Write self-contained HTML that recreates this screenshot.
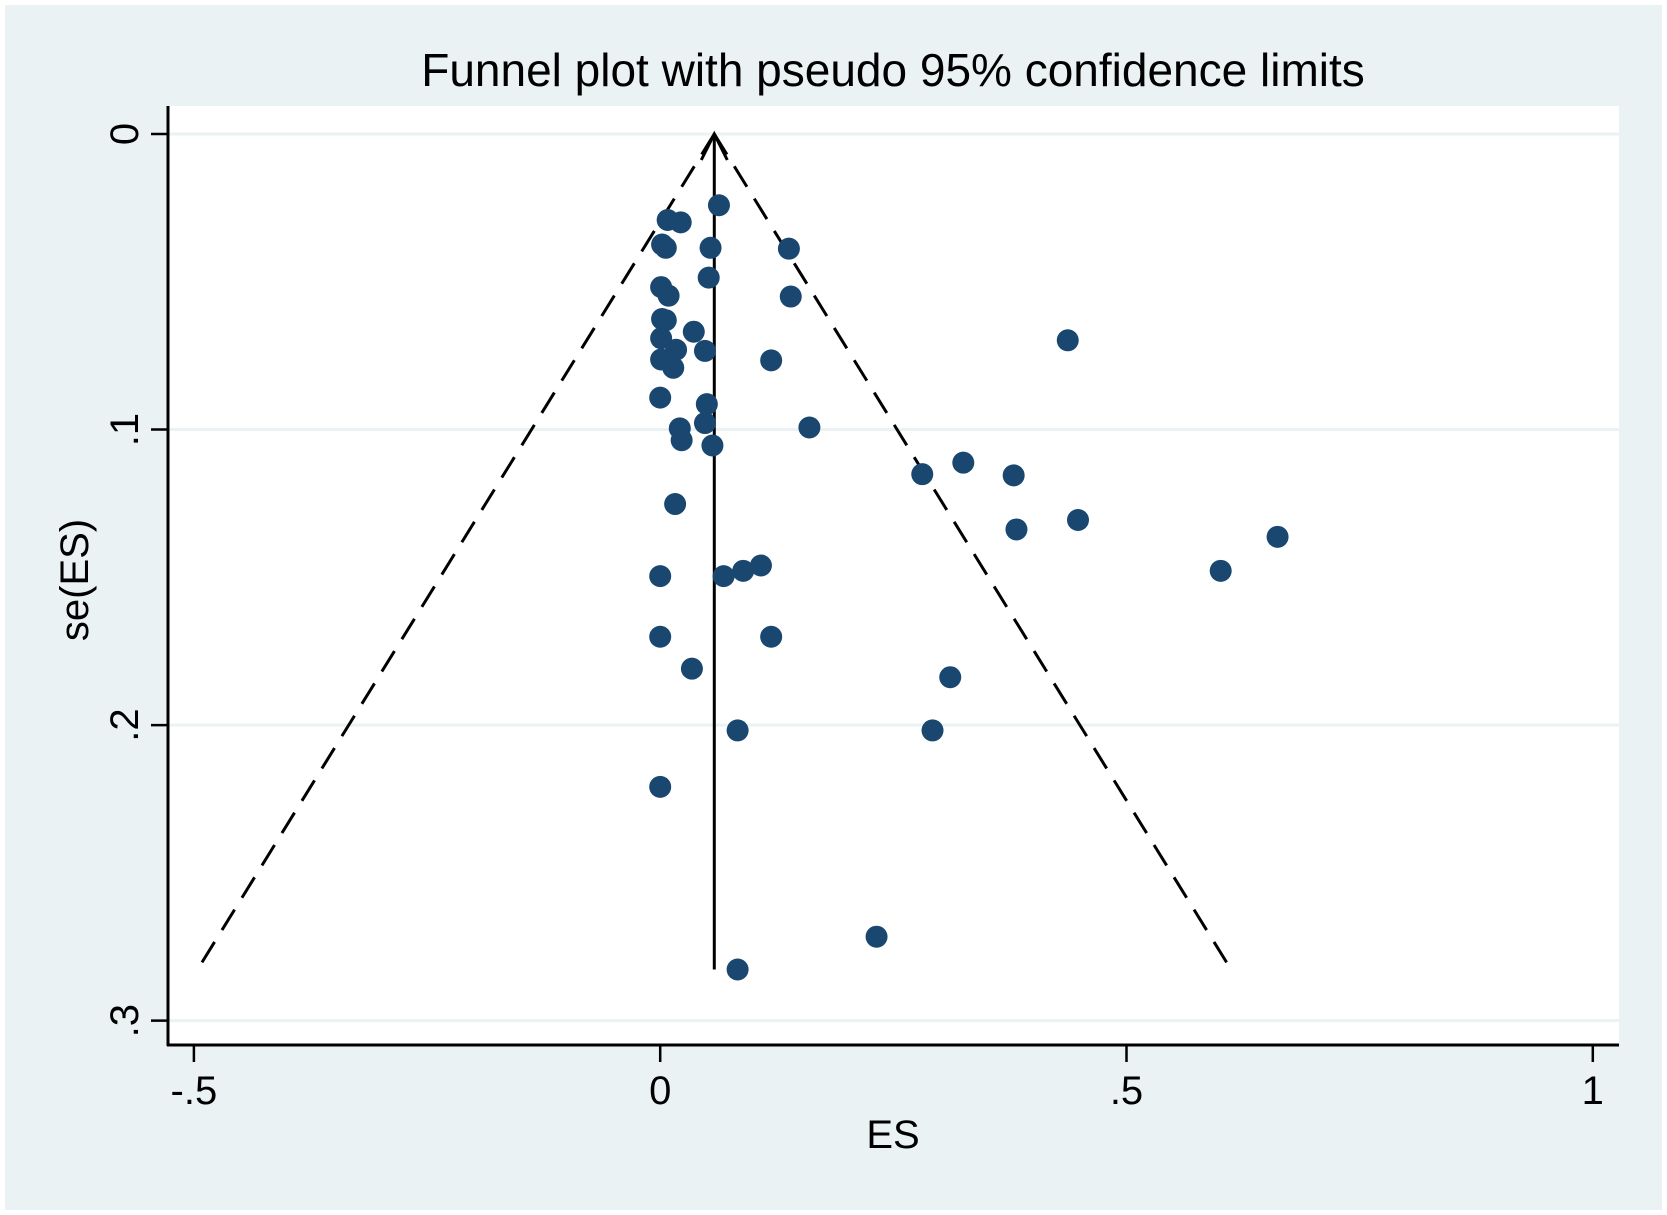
<!DOCTYPE html>
<html><head><meta charset="utf-8"><style>
html,body{margin:0;padding:0;background:#fff;}
svg{display:block;font-family:"Liberation Sans",Arial,sans-serif;}
</style></head><body>
<svg id="chart" width="1667" height="1215" viewBox="0 0 1667 1215">
<rect x="5" y="5" width="1657" height="1205" fill="#eaf2f3"/>
<rect x="168" y="106" width="1451" height="939" fill="#ffffff"/>
<text x="893" y="86" text-anchor="middle" font-size="46" fill="#000">Funnel plot with pseudo 95% confidence limits</text>
<g id="grid"></g>
<g id="axes"></g>
<g id="funnel"></g>
<g id="points"></g>
<text x="893" y="1148" text-anchor="middle" font-size="40" fill="#000">ES</text>
<text transform="translate(88,580) rotate(-90)" text-anchor="middle" font-size="40" fill="#000">se(ES)</text>
</svg>
<script>
const esValues=[0.063,0.008,0.022,0.002,0.006,0.054,0.138,0.052,0.001,0.009,0.140,0.002,0.006,0.036,0.437,0.001,0.017,0.048,0.001,0.014,0.119,0.000,0.050,0.048,0.021,0.160,0.023,0.056,0.281,0.325,0.379,0.016,0.448,0.382,0.662,0.000,0.068,0.089,0.108,0.601,0.000,0.119,0.034,0.311,0.083,0.292,0.000,0.232,0.083];
const seValues=[0.0241,0.0291,0.0299,0.0374,0.0385,0.0385,0.0388,0.0486,0.0518,0.0547,0.055,0.0626,0.063,0.0669,0.0698,0.0691,0.073,0.0734,0.0763,0.0791,0.0766,0.0892,0.0914,0.0978,0.0996,0.0993,0.1036,0.1054,0.1151,0.1112,0.1155,0.1252,0.1306,0.1338,0.1363,0.1496,0.1496,0.1478,0.146,0.1478,0.1701,0.1701,0.1809,0.1838,0.2018,0.2018,0.2209,0.2716,0.2827];
const xTicks=[-0.5,0,0.5,1];
const xTickLabels=["-.5","0",".5","1"];
const yTicks=[0,0.1,0.2,0.3];
const yTickLabels=["0",".1",".2",".3"];
const pooledES=[0.058];
const maxSE=[0.2827];

const NS="http://www.w3.org/2000/svg";
const X=v=>660.2+v*932.6;
const Y=v=>134+v*2955.5;
function mk(tag,attrs,parent){const e=document.createElementNS(NS,tag);for(const k in attrs)e.setAttribute(k,attrs[k]);parent.appendChild(e);return e;}
const grid=document.getElementById('grid'),axes=document.getElementById('axes'),fun=document.getElementById('funnel'),pts=document.getElementById('points');

yTicks.forEach((t,i)=>{
  const gl=mk('line',{x1:168,x2:1619,y1:Y(t),y2:Y(t),stroke:'#eaf2f3','stroke-width':3},grid);
  
  
  const tk=mk('line',{x1:151,x2:168,y1:Y(t),y2:Y(t),stroke:'#000','stroke-width':2.5},axes);
  
  
  const tx=mk('text',{transform:`translate(138,${Y(t)}) rotate(-90)`,'text-anchor':'middle','font-size':40,fill:'#000'},axes);
  tx.textContent=yTickLabels[i];
  
  
});
xTicks.forEach((t,i)=>{
  const tk=mk('line',{x1:X(t),x2:X(t),y1:1045,y2:1062,stroke:'#000','stroke-width':2.5},axes);
  
  
  const tx=mk('text',{x:X(t),y:1104,'text-anchor':'middle','font-size':40,fill:'#000'},axes);
  tx.textContent=xTickLabels[i];
  
  
});
const ya=mk('line',{x1:168,x2:168,y1:106,y2:1046,stroke:'#000','stroke-width':3},axes);


const xa=mk('line',{x1:167,x2:1619,y1:1045,y2:1045,stroke:'#000','stroke-width':3},axes);



const p=pooledES[0],m=maxSE[0];
const l1=mk('line',{x1:X(p),y1:Y(0),x2:X(p-1.96*m),y2:Y(m),stroke:'#000','stroke-width':3,'stroke-dasharray':'24 14'},fun);


const l2=mk('line',{x1:X(p),y1:Y(0),x2:X(p+1.96*m),y2:Y(m),stroke:'#000','stroke-width':3,'stroke-dasharray':'24 14'},fun);


const vl=mk('line',{x1:X(p),y1:Y(m),x2:X(p),y2:Y(0)+2,stroke:'#000','stroke-width':3},fun);


const ah=mk('polyline',{points:`${X(p)-13},${Y(0)+26} ${X(p)},${Y(0)} ${X(p)+13},${Y(0)+26}`,fill:'none',stroke:'#000','stroke-width':3},fun);



esValues.forEach((v,i)=>{
  const c=mk('circle',{cx:X(v),cy:Y(seValues[i]),r:11,fill:'#1a476f'},pts);
  
  
});
</script>
</body></html>
